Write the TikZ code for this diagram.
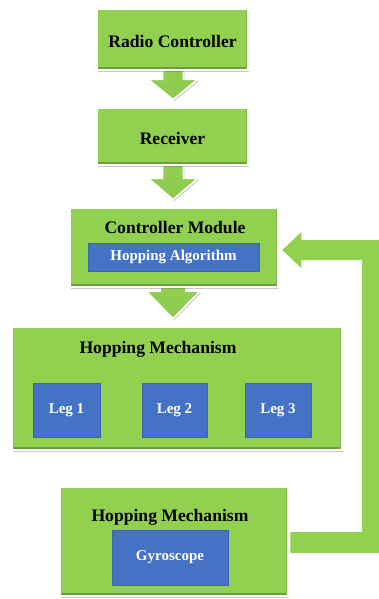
\documentclass[tikz,border=0pt]{standalone}
\usepackage{fontspec}
\setmainfont{Liberation Serif}
\usetikzlibrary{calc,shadows,backgrounds}
\definecolor{boxgreen}{HTML}{92D050}
\definecolor{darkgreen}{HTML}{6E9E3C}
\definecolor{boxblue}{HTML}{4472C4}
\definecolor{blueline}{HTML}{3B65B0}
\tikzset{
  shadowed/.style={drop shadow={shadow xshift=1.2pt, shadow yshift=-1.6pt, opacity=0.3, fill=black!70}},
  gbox/.style={shape=rectangle, fill=boxgreen, draw=white, line width=2.6pt, shadowed, inner sep=0pt,
    path picture={\fill[darkgreen] (path picture bounding box.south west) rectangle ([yshift=3pt]path picture bounding box.south east);
                  \fill[darkgreen!50!boxgreen] (path picture bounding box.north east) rectangle ([xshift=-2pt]path picture bounding box.south east);}},
  bbox/.style={shape=rectangle, fill=boxblue, draw=blueline, line width=0.6pt, inner sep=0pt, text=white,
    font=\fontsize{15}{17}\selectfont\bfseries},
  gtitle/.style={font=\fontsize{17.6}{20}\selectfont\bfseries, text=black, inner sep=0pt},
  barrow/.style={top color=boxgreen, bottom color=boxgreen!85!darkgreen, draw=white, line width=1.8pt, line join=miter, shadowed},
  fbarrow/.style={fill=boxgreen},
}
\begin{document}
\begin{tikzpicture}[x=1pt,y=-1pt]
\useasboundingbox (0,0) rectangle (379,599);

% green boxes
\path (172.5,39.5) node[gbox, minimum width=151pt, minimum height=61pt] (rc) {};
\path (172.5,136.5) node[gbox, minimum width=151pt, minimum height=57pt] (rec) {};
\path (174,247.5) node[gbox, minimum width=208pt, minimum height=79pt] (cm) {};
\path (177,388.5) node[gbox, minimum width=330pt, minimum height=123pt] (hm1) {};
\path (174,541.5) node[gbox, minimum width=228pt, minimum height=109pt] (hm2) {};

% titles
\node[gtitle] (trc) at ($(rc.center)+(0,2)$) {Radio Controller};
\node[gtitle] (trec) at ($(rec.center)+(0,1.5)$) {Receiver};
\node[gtitle] (tcm) at ($(cm.north)+(1,20.5)$) {Controller Module};
\node[gtitle] (thm1) at ($(hm1.north)+(-19,24)$) {Hopping Mechanism};
\node[gtitle] (thm2) at ($(hm2.north)+(-4,32)$) {Hopping Mechanism};

% blue boxes
\node[bbox, minimum width=171pt, minimum height=28pt] (ha) at (173.5,257) {Hopping Algorithm};
\node[bbox, minimum width=67pt, minimum height=54pt] (leg1) at (66.5,410) {Leg 1};
\node[bbox, minimum width=65pt, minimum height=54pt] (leg2) at (174.5,410) {Leg 2};
\node[bbox, minimum width=66pt, minimum height=54pt] (leg3) at (278,410) {Leg 3};
\node[bbox, minimum width=116pt, minimum height=55pt] (gyro) at (170,557.5) {Gyroscope};

\begin{scope}[on background layer]
% block arrows
\coordinate (a1s) at ($(rc.south)+(0.5,0)$);
\coordinate (a1t) at ($(rec.north)+(0.5,-7)$);
\coordinate (a2s) at ($(rec.south)+(0.5,0)$);
\coordinate (a2t) at ($(cm.north)+(-1,-7)$);
\coordinate (a3s) at ($(cm.south)+(-1,0)$);
\coordinate (a3t) at ($(hm1.north)+(-4,-7)$);
\path[barrow] ($(a1s)+(-10.5,-6)$) -- ($(a1s)+(-10.5,8)$) -- ($(a1s)+(-25,8)$) -- (a1t)
  -- ($(a1s)+(25,8)$) -- ($(a1s)+(10.5,8)$) -- ($(a1s)+(10.5,-6)$) -- cycle;
\path[barrow] ($(a2s)+(-10.5,-6)$) -- ($(a2s)+(-10.5,12)$) -- ($(a2s)+(-25,12)$) -- (a2t)
  -- ($(a2s)+(25,12)$) -- ($(a2s)+(10.5,12)$) -- ($(a2s)+(10.5,-6)$) -- cycle;
\path[barrow] ($(a3s)+(-13,-6)$) -- ($(a3s)+(-13,3)$) -- ($(a3s)+(-27,3)$) -- (a3t)
  -- ($(a3s)+(27,3)$) -- ($(a3s)+(13,3)$) -- ($(a3s)+(13,-6)$) -- cycle;

% feedback arrow
\coordinate (fstart) at ($(hm2.east)+(1,1)$);
\coordinate (ftip) at ($(cm.east)+(3,2.5)$);
\coordinate (vx) at (362,0);
\coordinate (vx2) at (384,0);
\coordinate (b1) at ($(fstart)+(0,-10.5)$);
\coordinate (b2) at ($(fstart)+(0,10.5)$);
\coordinate (t1) at ($(ftip)+(19,-10)$);
\coordinate (t2) at ($(ftip)+(19,10)$);
\coordinate (h1) at ($(ftip)+(19,-18)$);
\coordinate (h2) at ($(ftip)+(19,18)$);
\fill[fbarrow] (b1) -- (vx |- b1) -- (vx |- t2) -- (t2) -- (h2) -- (ftip) -- (h1) -- (t1)
  -- (vx2 |- t1) -- (vx2 |- b2) -- (b2) -- cycle;
\end{scope}
\end{tikzpicture}
\end{document}
